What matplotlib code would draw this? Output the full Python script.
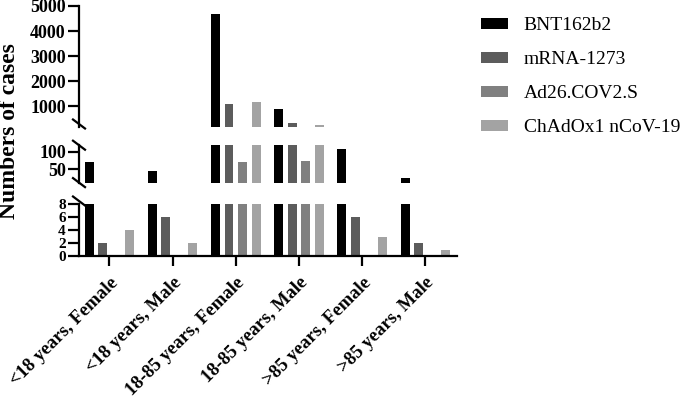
import numpy as np
import matplotlib
matplotlib.use("Agg")
import matplotlib.pyplot as plt

plt.rcParams['font.family'] = ['Liberation Serif', 'DejaVu Serif']

categories = ['<18 years, Female', '<18 years, Male', '18-85 years, Female',
              '18-85 years, Male', '>85 years, Female', '>85 years, Male']
vaccines = ['BNT162b2', 'mRNA-1273', 'Ad26.COV2.S', 'ChAdOx1 nCoV-19']
bnt = [70, 45, 4700, 890, 110, 25]
mrna = [2, 6, 1080, 340, 6, 2]
ad26 = [0, 0, 70, 75, 0, 0]
chad = [4, 2, 1150, 250, 3, 1]
series = [bnt, mrna, ad26, chad]
colors = ['#000000', '#5c5c5c', '#808080', '#a3a3a3']

# y segments of the broken axis (low, high), plus ticks for each
segments = [(0, 8), (10, 120), (150, 5000)]
seg_ticks = [[0, 2, 4, 6, 8], [50, 100], [1000, 2000, 3000, 4000, 5000]]
tick_sizes = [11, 13, 13]

W, H = 685, 398
fig = plt.figure(figsize=(W / 100, H / 100), dpi=100)

# pixel boxes: (top px, bottom px) for each segment
seg_px = [(204, 256), (145.2, 182.6), (6, 127.3)]
left_px, right_px = 79, 457

x = np.arange(len(categories))
pitch = 0.214
width = 0.142

axes = []
for (lo, hi), ticks, fs, (ptop, pbot) in zip(segments, seg_ticks, tick_sizes, seg_px):
    ax = fig.add_axes([left_px / W, 1 - pbot / H, (right_px - left_px) / W, (pbot - ptop) / H])
    for i, (vals, c) in enumerate(zip(series, colors)):
        ax.bar(x + (i - 1.5) * pitch, vals, width, color=c, label=vaccines[i])
    ax.set_ylim(lo, hi)
    ax.set_xlim(-0.48, 5.5)
    ax.set_yticks(ticks)
    ax.set_yticklabels([str(t) for t in ticks], fontsize=fs, fontweight='bold')
    ax.tick_params(axis='y', length=8, width=1.6, pad=1.5)
    for s in ['top', 'right']:
        ax.spines[s].set_visible(False)
    ax.spines['left'].set_linewidth(1.6)
    ax.spines['bottom'].set_linewidth(1.6)
    ax.patch.set_alpha(0)
    axes.append(ax)

bottom_ax, mid_ax, top_ax = axes
for ax in (mid_ax, top_ax):
    ax.spines['bottom'].set_visible(False)
    ax.set_xticks([])

bottom_ax.set_xticks(x)
bottom_ax.set_xticklabels(categories, rotation=45, ha='right', rotation_mode='anchor',
                          fontsize=13.5, fontweight='bold')
bottom_ax.tick_params(axis='x', length=7, width=1.6, pad=6)

# break marks on the y axis
def slash(y_px):
    xs = np.array([left_px - 6, left_px + 6]) / W
    ys = 1 - np.array([y_px - 4.5, y_px + 4.5]) / H
    fig.add_artist(plt.Line2D(xs, ys, color='black', lw=1.6))

for y_px in [201, 182.6, 145.2, 124]:
    slash(y_px)

fig.text(10 / W, 1 - 131 / H, 'Numbers of cases', rotation=90, ha='center', va='center',
         fontsize=17, fontweight='bold')

handles, labels = bottom_ax.get_legend_handles_labels()
fig.legend(handles, labels, loc='upper left', bbox_to_anchor=(481 / W, 1 - 17 / H),
           frameon=False, fontsize=14, handlelength=1.4, handleheight=0.5,
           handletextpad=0.8, labelspacing=0.88, borderpad=0, borderaxespad=0)

fig.savefig('out.png', dpi=100)
